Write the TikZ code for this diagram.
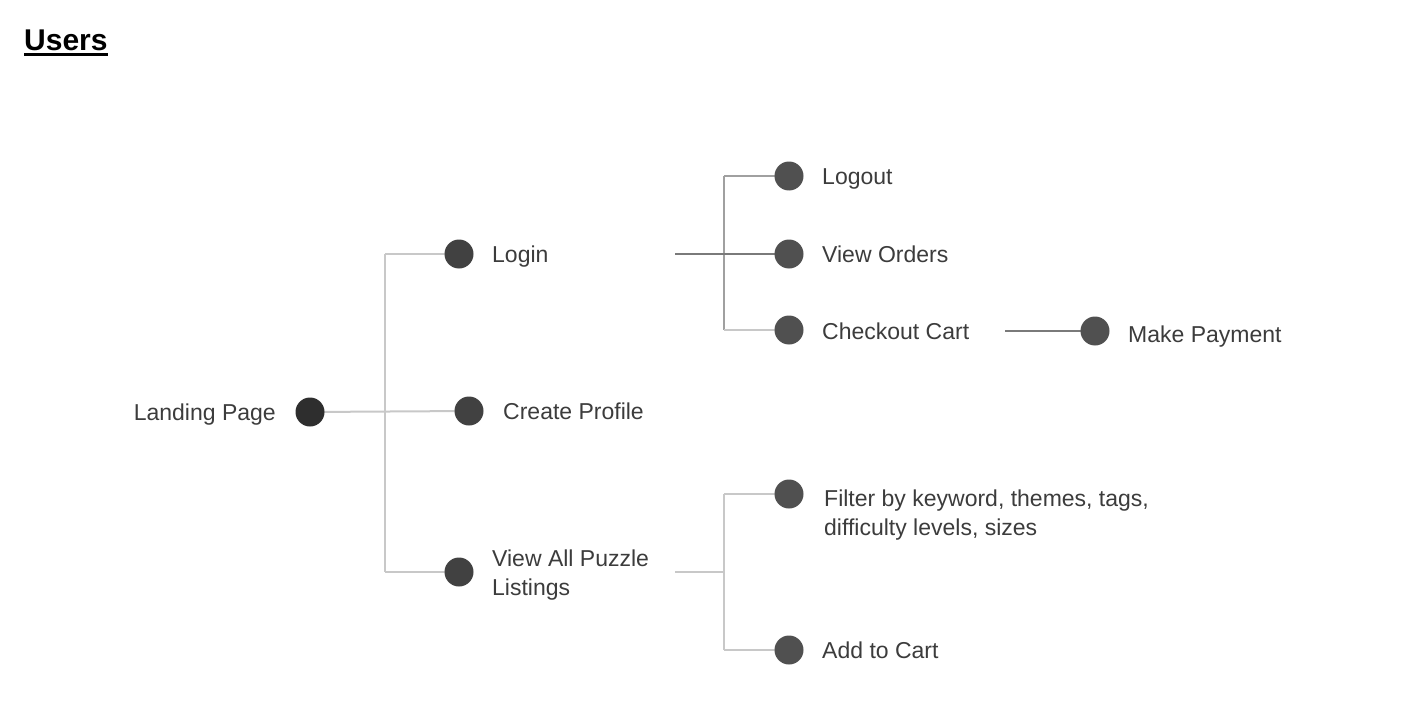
\documentclass[tikz,border=0pt]{standalone}
\usepackage{fontspec}
\setmainfont{Liberation Sans}
\usetikzlibrary{backgrounds}
\definecolor{txt}{HTML}{3C3C3C}
\definecolor{dotA}{HTML}{2E2E2E}
\definecolor{dotB}{HTML}{414141}
\definecolor{dotC}{HTML}{505050}
\definecolor{lineL}{HTML}{C8C8C8}
\definecolor{lineM}{HTML}{A0A0A0}
\definecolor{lineD}{HTML}{7A7A7A}
\begin{document}
\begin{tikzpicture}[x=1pt,y=-1pt,
  dot/.style={circle, fill=#1, minimum size=29pt, inner sep=0pt},
  lbl/.style={anchor=base west, text=txt, font=\fontsize{23}{29}\selectfont, inner sep=0pt, align=left},
  conn/.style={draw=#1, line width=2pt},
  conn/.default=lineL]
\useasboundingbox (0,0) rectangle (1418,706);

\node[anchor=base west, font=\fontsize{30}{36}\selectfont\bfseries, inner sep=0pt] (title) at (24,51) {Users};
\draw[line width=3pt] ([yshift=-4pt]title.base west) -- ([yshift=-4pt]title.base east);

% dots
\node[dot=dotA] (land) at (310,412) {};
\node[dot=dotB] (login) at (459,254) {};
\node[dot=dotB] (cp) at (469,411) {};
\node[dot=dotB] (vap) at (459,572) {};
\node[dot=dotC] (logout) at (789,176) {};
\node[dot=dotC] (vo) at (789,254) {};
\node[dot=dotC] (cc) at (789,330) {};
\node[dot=dotC] (mp) at (1095,331) {};
\node[dot=dotC] (flt) at (789,494) {};
\node[dot=dotC] (atc) at (789,650) {};

% labels
\node[lbl, anchor=base east] (tland) at (276,420) {Landing Page};
\node[lbl] (tlogin) at (492,262) {Login};
\node[lbl] (tcp) at (503,419) {Create Profile};
\node[lbl] (tvap) at (492,595) {View All Puzzle\\Listings};
\node[lbl] (tlogout) at (822,184) {Logout};
\node[lbl] (tvo) at (822,262) {View Orders};
\node[lbl] (tcc) at (822,339) {Checkout Cart};
\node[lbl] (tmp) at (1128,342) {Make Payment};
\node[lbl] (tflt) at (824,535) {Filter by keyword, themes, tags,\\difficulty levels, sizes};
\node[lbl] (tatc) at (822,658) {Add to Cart};

% junction coordinates
\coordinate (j1) at (385,254);
\coordinate (j2) at (385,572);
\coordinate (s2) at (675,254);
\coordinate (k1) at (724,176);
\coordinate (k2) at (724,330);
\coordinate (s3) at (1005,331);
\coordinate (s4) at (675,572);
\coordinate (m3) at (724,572);
\coordinate (m1) at (724,494);
\coordinate (m2) at (724,650);

\begin{scope}[on background layer]
\fill[white] (0,0) rectangle (1418,706);
\draw[conn] (land.center) -- (cp.center);
\draw[conn] (j1) -- (j2);
\draw[conn] (j1) -- (login.center);
\draw[conn] (j2) -- (vap.center);
\draw[conn=lineM] (k1) -- (k2);
\draw[conn=lineM] (k1) -- (logout.center);
\draw[conn=lineL] (k2) -- (cc.center);
\draw[conn=lineD] (s2) -- (vo.center);
\draw[conn=lineD, line width=1.5pt] (s3) -- (mp.center);
\draw[conn] (s4) -- (m3);
\draw[conn] (m1) -- (m2);
\draw[conn] (m1) -- (flt.center);
\draw[conn] (m2) -- (atc.center);
\end{scope}
\end{tikzpicture}
\end{document}
